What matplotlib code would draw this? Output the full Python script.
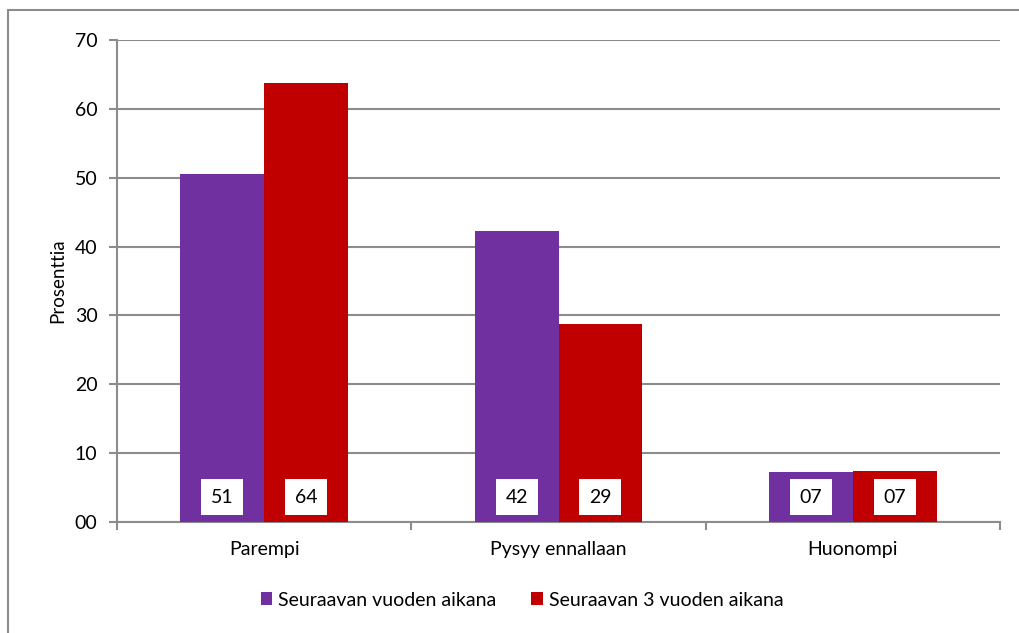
import matplotlib
matplotlib.use("Agg")
import matplotlib.pyplot as plt
import numpy as np
from matplotlib.patches import Rectangle

categories = ["Parempi", "Pysyy ennallaan", "Huonompi"]
series_names = ["Seuraavan vuoden aikana", "Seuraavan 3 vuoden aikana"]
values_1 = [50.5, 42.2, 7.2]
values_2 = [63.8, 28.7, 7.4]
label_1 = ["51", "42", "07"]
label_2 = ["64", "29", "07"]
yticks = [0, 10, 20, 30, 40, 50, 60, 70]
ytick_labels = ["00", "10", "20", "30", "40", "50", "60", "70"]

colors = ["#7030A0", "#C00000"]
grid_c = "#8c8c8c"

plt.rcParams['font.family'] = ['Lato', 'DejaVu Sans']
FS = 14

W, H = 1019, 633
fig = plt.figure(figsize=(W/100, H/100), dpi=100)
ax = fig.add_axes([117/W, 1-522/H, (1000-117)/W, (522-40)/H])

# outer border (only top and left visible)
fig.patches.append(Rectangle((8/W, -0.1), 1.2, 1.1 - 10/H, transform=fig.transFigure,
                             fill=False, edgecolor=grid_c, linewidth=1.5, zorder=0))

x = np.arange(len(categories))
bw = 0.285
b1 = ax.bar(x - bw/2, values_1, bw, color=colors[0], label=series_names[0], zorder=3)
b2 = ax.bar(x + bw/2, values_2, bw, color=colors[1], label=series_names[1], zorder=3)

for xi, l1, l2 in zip(x, label_1, label_2):
    for dx, lab in ((-bw/2, l1), (bw/2, l2)):
        ax.text(xi + dx, 3.6, lab, ha='center', va='center', fontsize=FS, zorder=5,
                color='black',
                bbox=dict(boxstyle='square,pad=0.5', facecolor='white', edgecolor='none'))

ax.set_xlim(-0.5, len(categories) - 0.5)
ax.set_ylim(0, 70)
ax.set_yticks(yticks)
ax.set_yticklabels(ytick_labels, fontsize=FS)
ax.yaxis.grid(True, color=grid_c, linewidth=1.5, zorder=0)
ax.set_axisbelow(True)

ax.set_xticks(x)
ax.set_xticklabels(categories, fontsize=FS)
ax.tick_params(axis='x', length=0, pad=14)
ax.set_xticks(np.arange(len(categories) + 1) - 0.5, minor=True)
ax.tick_params(axis='x', which='minor', length=6, width=1.5, color=grid_c)
ax.tick_params(axis='y', length=6, width=1.5, color=grid_c, pad=8)

for s in ['top', 'right']:
    ax.spines[s].set_visible(False)
for s in ['left', 'bottom']:
    ax.spines[s].set_color(grid_c)
    ax.spines[s].set_linewidth(1.5)

ax.set_ylabel("Prosenttia", fontsize=FS - 0.5)
ax.yaxis.set_label_coords(-(117 - 66) / (1000 - 117), 0.5)

leg = fig.legend(handles=[b1, b2], labels=series_names, loc='center',
                 bbox_to_anchor=(522/W, 1-600/H), ncol=2, frameon=False, fontsize=FS,
                 handlelength=0.6, handleheight=0.6, handletextpad=0.3, columnspacing=1.8)

fig.savefig("out.png", dpi=100)
